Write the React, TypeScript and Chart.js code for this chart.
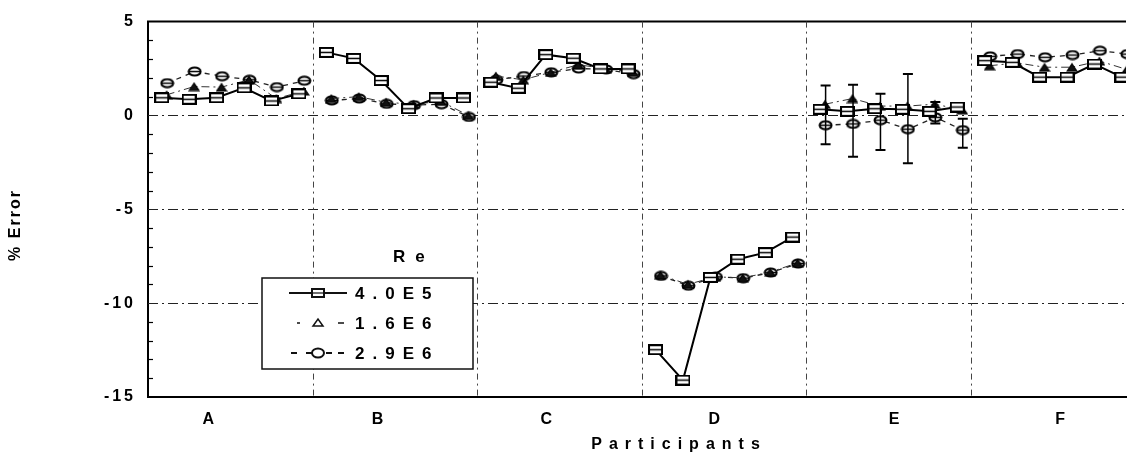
import React, { useEffect, useRef } from "react";
import { Chart, registerables } from "chart.js";

Chart.register(...registerables);

// Participants and the six runs each one reported
const participants = ["A", "B", "C", "D", "E", "F"];
const runsPerParticipant = 6;

// % error per run, Re = 4.0E5 (squares, solid line)
const re40e5 = [
  0.94, 0.86, 0.94, 1.47, 0.77, 1.15,
  3.36, 3.04, 1.86, 0.36, 0.93, 0.93,
  1.77, 1.45, 3.24, 3.05, 2.48, 2.48,
  -12.48, -14.1, -8.63, -7.66, -7.31, -6.48,
  0.33, 0.22, 0.36, 0.33, 0.22, 0.45,
  2.92, 2.83, 2.04, 2.04, 2.74, 2.04,
];

// % error per run, Re = 1.6E6 (triangles, dash-dot line)
const re16e6 = [
  1.1, 1.54, 1.51, 1.9, 0.9, 1.3,
  0.9, 1.0, 0.7, 0.6, 0.75, 0.0,
  2.1, 1.9, 2.3, 2.7, 2.5, 2.3,
  -8.5, -9.0, -8.6, -8.65, -8.35, -7.85,
  0.6, 0.9, 0.5, 0.5, 0.6, 0.3,
  2.65, 2.8, 2.57, 2.57, 2.9, 2.45,
];

// % error per run, Re = 2.9E6 (ellipses, dashed line)
const re29e6 = [
  1.72, 2.34, 2.09, 1.9, 1.51, 1.85,
  0.8, 0.9, 0.62, 0.55, 0.6, -0.08,
  1.9, 2.1, 2.3, 2.5, 2.45, 2.2,
  -8.55, -9.07, -8.6, -8.67, -8.37, -7.89,
  -0.52, -0.45, -0.25, -0.73, -0.1, -0.78,
  3.15, 3.27, 3.1, 3.22, 3.45, 3.27,
];

// Uncertainty band reported by participant E (Re = 2.9E6)
const errorBarParticipant = "E";
const errLowE = [-1.54, -2.2, -1.84, -2.55, -0.43, -1.72];
const errHighE = [1.6, 1.63, 1.15, 2.21, 0.71, -0.17];

const seriesLabels = ["4.0E5", "1.6E6", "2.9E6"];
const legendTitle = "Re";
const xTitle = "Participants";
const yTitle = "% Error";

const yMin = -15;
const yMax = 5;
const yStep = 5;

const FONT = "'Liberation Sans', Arial, Helvetica, sans-serif";

// where each participant letter sits within its group of runs
const labelShift = [1.75, 1.92, 2.07, 2.2, 2.75, 2.8];
const seriesOffset = [0, 0.18, 0.2];

function makeSquare(): HTMLCanvasElement {
  const c = document.createElement("canvas");
  c.width = 15;
  c.height = 11;
  const g = c.getContext("2d")!;
  g.fillStyle = "#fff";
  g.fillRect(1, 1, 13, 9);
  g.strokeStyle = "#000";
  g.lineWidth = 2;
  g.strokeRect(1, 1, 13, 9);
  g.lineWidth = 1.5;
  g.beginPath();
  g.moveTo(2, 5.5);
  g.lineTo(13, 5.5);
  g.stroke();
  return c;
}

function makeEllipse(): HTMLCanvasElement {
  const c = document.createElement("canvas");
  c.width = 15;
  c.height = 11;
  const g = c.getContext("2d")!;
  g.beginPath();
  g.ellipse(7.5, 5.5, 6, 4, 0, 0, Math.PI * 2);
  g.fillStyle = "#fff";
  g.fill();
  g.strokeStyle = "#000";
  g.lineWidth = 2;
  g.stroke();
  g.lineWidth = 1.5;
  g.beginPath();
  g.moveTo(1, 5.5);
  g.lineTo(14, 5.5);
  g.stroke();
  return c;
}

function makeTriangle(): HTMLCanvasElement {
  const c = document.createElement("canvas");
  c.width = 12;
  c.height = 10;
  const g = c.getContext("2d")!;
  g.beginPath();
  g.moveTo(1, 9);
  g.lineTo(11, 9);
  g.lineTo(6, 1.5);
  g.closePath();
  g.fillStyle = "#111";
  g.fill();
  g.strokeStyle = "#000";
  g.lineWidth = 1.2;
  g.stroke();
  return c;
}

const group = (i: number) => Math.floor(i / runsPerParticipant);

export default function App() {
  const ref = useRef<HTMLCanvasElement>(null);

  useEffect(() => {
    const canvas = ref.current;
    if (!canvas) return;

    const toPoints = (vals: number[], off: number) =>
      vals.map((v, i) => ({ x: i + off, y: v }));

    const hideBetweenGroups = {
      borderColor: (c: any) =>
        group(c.p0DataIndex) !== group(c.p1DataIndex) ? "rgba(0,0,0,0)" : undefined,
    };

    const framePlugin = {
      id: "frame",
      beforeDraw(chart: any) {
        chart.ctx.letterSpacing = "3px";
      },
      beforeDatasetsDraw(chart: any) {
        const { ctx, chartArea, scales } = chart;
        const { left, right, top, bottom } = chartArea;
        const x = scales.x;
        const y = scales.y;
        ctx.save();
        ctx.strokeStyle = "#000";
        ctx.lineWidth = 2;
        ctx.beginPath();
        ctx.moveTo(left - 1, top);
        ctx.lineTo(right, top);
        ctx.stroke();

        ctx.strokeStyle = "#222";
        ctx.lineWidth = 1.2;
        ctx.setLineDash([10, 4, 2, 4]);
        for (let v = yMin + yStep; v < yMax; v += yStep) {
          const py = Math.round(y.getPixelForValue(v)) + 0.5;
          ctx.beginPath();
          ctx.moveTo(left, py);
          ctx.lineTo(right, py);
          ctx.stroke();
        }
        ctx.strokeStyle = "#444";
        ctx.lineWidth = 1;
        ctx.setLineDash([6, 4, 2, 4]);
        for (let g = 1; g < participants.length; g++) {
          const px = Math.round(x.getPixelForValue(g * runsPerParticipant - 0.5)) + 0.5;
          ctx.beginPath();
          ctx.moveTo(px, top);
          ctx.lineTo(px, bottom);
          ctx.stroke();
        }
        ctx.setLineDash([]);

        // minor ticks on the inside of the value axis
        ctx.strokeStyle = "#000";
        ctx.lineWidth = 1.2;
        for (let v = yMin + 1; v < yMax; v++) {
          if (v % yStep === 0) continue;
          const py = Math.round(y.getPixelForValue(v)) + 0.5;
          ctx.beginPath();
          ctx.moveTo(left, py);
          ctx.lineTo(left + 5, py);
          ctx.stroke();
        }
        ctx.restore();
      },
      afterDatasetsDraw(chart: any) {
        const { ctx, scales } = chart;
        const x = scales.x;
        const y = scales.y;
        const g0 = participants.indexOf(errorBarParticipant) * runsPerParticipant;
        ctx.save();
        ctx.strokeStyle = "#000";
        errLowE.forEach((lo, j) => {
          const px = x.getPixelForValue(g0 + j + seriesOffset[2]);
          const pLo = y.getPixelForValue(lo);
          const pHi = y.getPixelForValue(errHighE[j]);
          ctx.lineWidth = 1.5;
          ctx.beginPath();
          ctx.moveTo(px, pLo);
          ctx.lineTo(px, pHi);
          ctx.stroke();
          ctx.lineWidth = 2;
          ctx.beginPath();
          ctx.moveTo(px - 5, pLo);
          ctx.lineTo(px + 5, pLo);
          ctx.moveTo(px - 5, pHi);
          ctx.lineTo(px + 5, pHi);
          ctx.stroke();
        });
        ctx.restore();
      },
      afterDraw(chart: any) {
        const { ctx } = chart;
        ctx.save();
        ctx.fillStyle = "#000";

        // value axis title
        ctx.save();
        ctx.font = `bold 16px ${FONT}`;
        ctx.letterSpacing = "2px";
        ctx.textAlign = "center";
        ctx.textBaseline = "middle";
        ctx.translate(16, 225);
        ctx.rotate(-Math.PI / 2);
        ctx.fillText(yTitle, 0, 0);
        ctx.restore();

        // category axis title
        ctx.font = `bold 16px ${FONT}`;
        ctx.letterSpacing = "7px";
        ctx.textAlign = "center";
        ctx.textBaseline = "middle";
        ctx.fillText(xTitle, 679, 445);

        // legend
        const bx = 262, by = 278, bw = 211, bh = 91;
        ctx.fillStyle = "#fff";
        ctx.fillRect(bx, by, bw, bh);
        ctx.strokeStyle = "#111";
        ctx.lineWidth = 1.5;
        ctx.strokeRect(bx, by, bw, bh);

        ctx.fillStyle = "#000";
        ctx.font = `bold 17px ${FONT}`;
        ctx.letterSpacing = "10px";
        ctx.textAlign = "left";
        ctx.fillText(legendTitle, 393, 257);

        const rows = [293, 323, 353];
        const mx = 318;
        // row 1: solid line with square
        ctx.lineWidth = 2;
        ctx.beginPath();
        ctx.moveTo(289, rows[0]);
        ctx.lineTo(347, rows[0]);
        ctx.stroke();
        ctx.fillStyle = "#fff";
        ctx.fillRect(mx - 6, rows[0] - 4, 12, 8);
        ctx.strokeRect(mx - 6, rows[0] - 4, 12, 8);
        ctx.lineWidth = 1.2;
        ctx.beginPath();
        ctx.moveTo(mx - 5, rows[0]);
        ctx.lineTo(mx + 5, rows[0]);
        ctx.stroke();

        // row 2: dash-dot with hollow triangle
        ctx.lineWidth = 1.5;
        ctx.beginPath();
        ctx.moveTo(297, rows[1]);
        ctx.lineTo(300, rows[1]);
        ctx.moveTo(338, rows[1]);
        ctx.lineTo(344, rows[1]);
        ctx.stroke();
        ctx.beginPath();
        ctx.moveTo(mx - 5, rows[1] + 3);
        ctx.lineTo(mx + 5, rows[1] + 3);
        ctx.lineTo(mx, rows[1] - 4);
        ctx.closePath();
        ctx.stroke();

        // row 3: dashed with hollow ellipse
        ctx.lineWidth = 2;
        ctx.beginPath();
        ctx.moveTo(291, rows[2]);
        ctx.lineTo(297, rows[2]);
        ctx.moveTo(326, rows[2]);
        ctx.lineTo(332, rows[2]);
        ctx.moveTo(338, rows[2]);
        ctx.lineTo(344, rows[2]);
        ctx.stroke();
        ctx.beginPath();
        ctx.moveTo(306, rows[2]);
        ctx.lineTo(312, rows[2]);
        ctx.stroke();
        ctx.beginPath();
        ctx.ellipse(mx, rows[2], 6, 4.5, 0, 0, Math.PI * 2);
        ctx.fillStyle = "#fff";
        ctx.fill();
        ctx.stroke();

        ctx.fillStyle = "#000";
        ctx.font = `bold 17px ${FONT}`;
        ctx.letterSpacing = "8px";
        ctx.textBaseline = "middle";
        seriesLabels.forEach((s, i) => ctx.fillText(s, 355, rows[i] + 1));

        ctx.restore();
        ctx.letterSpacing = "0px";
      },
    };

    const tickFont = { family: FONT, size: 16, weight: "bold" as const };

    const chart = new Chart(canvas, {
      type: "line",
      data: {
        datasets: [
          {
            label: seriesLabels[0],
            data: toPoints(re40e5, seriesOffset[0]),
            borderColor: "#000",
            borderWidth: 2,
            pointStyle: makeSquare(),
            segment: hideBetweenGroups,
          },
          {
            label: seriesLabels[1],
            data: toPoints(re16e6, seriesOffset[1]),
            borderColor: "#333",
            borderWidth: 1,
            borderDash: [8, 4, 2, 4],
            pointStyle: makeTriangle(),
            segment: hideBetweenGroups,
          },
          {
            label: seriesLabels[2],
            data: toPoints(re29e6, seriesOffset[2]),
            borderColor: "#222",
            borderWidth: 1.3,
            borderDash: [5, 5],
            pointStyle: makeEllipse(),
            segment: hideBetweenGroups,
          },
        ],
      },
      options: {
        animation: false,
        responsive: false,
        maintainAspectRatio: false,
        devicePixelRatio: 1,
        events: [],
        layout: { padding: { top: 20, left: 0, right: 0, bottom: 0 } },
        plugins: {
          legend: { display: false },
          tooltip: { enabled: false },
        },
        scales: {
          x: {
            type: "linear",
            min: -0.5,
            max: 35.15,
            grid: { display: false, drawTicks: false },
            border: { display: true, color: "#000", width: 2 },
            afterBuildTicks: (axis: any) => {
              axis.ticks = participants.map((_, g) => ({
                value: g * runsPerParticipant + labelShift[g],
              }));
            },
            ticks: {
              font: tickFont,
              color: "#000",
              padding: 13,
              autoSkip: false,
              maxRotation: 0,
              callback: (_v: any, i: number) => participants[i],
            },
            afterFit: (s: any) => {
              s.height = 61;
            },
          },
          y: {
            min: yMin,
            max: yMax,
            grid: { display: false, drawTicks: false },
            border: { display: true, color: "#000", width: 2 },
            ticks: {
              stepSize: yStep,
              font: tickFont,
              color: "#000",
              padding: 12,
            },
            afterFit: (s: any) => {
              s.width = 148;
            },
          },
        },
      } as any,
      plugins: [framePlugin],
    });

    return () => chart.destroy();
  }, []);

  return (
    <div
      style={{
        position: "fixed",
        left: 0,
        top: 0,
        width: 1132,
        height: 458,
        background: "#fff",
      }}
    >
      <canvas
        ref={ref}
        width={1132}
        height={458}
        style={{ display: "block", width: 1132, height: 458 }}
      />
    </div>
  );
}
